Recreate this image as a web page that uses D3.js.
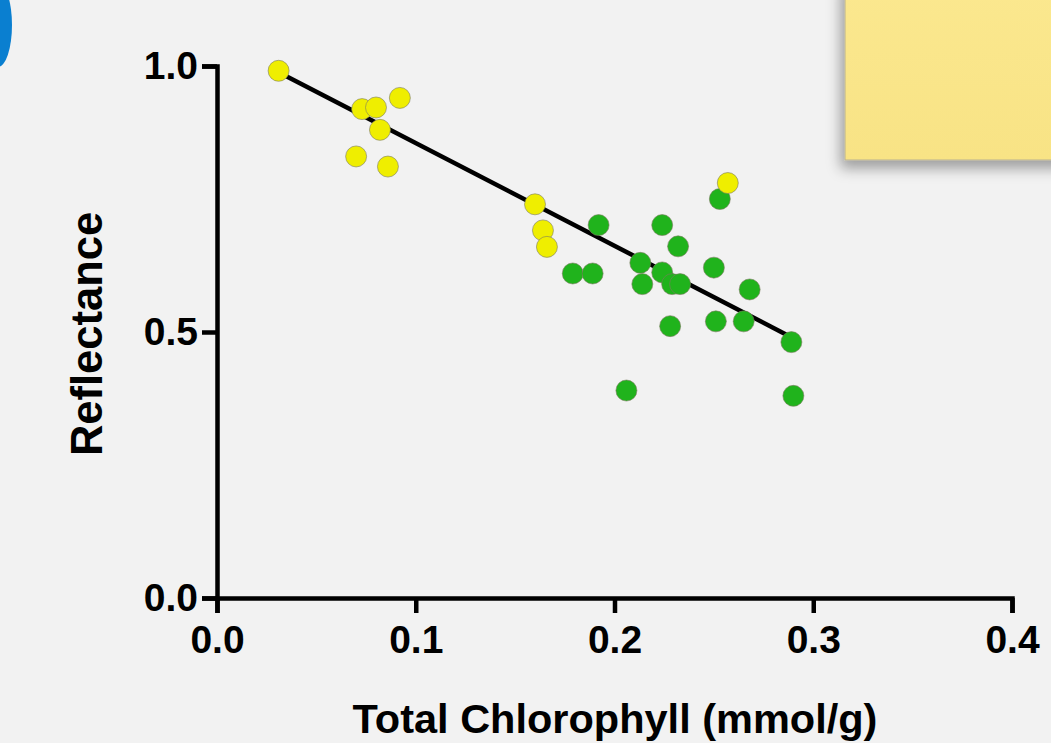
<!DOCTYPE html>
<meta charset="utf-8">
<style>
body { margin: 0; background: #f2f2f2; }
svg { display: block; }
.axis text { font-family: "Liberation Sans", Arial, sans-serif; font-weight: bold; font-size: 39px; fill: #000; }
.axis path, .axis line { stroke: #000; stroke-width: 4.5px; }
.title { font-family: "Liberation Sans", Arial, sans-serif; font-weight: bold; fill: #000; }
.dot { stroke: #7a7a60; stroke-width: 0.6px; }
</style>
<svg width="1051" height="743"></svg>
<script src="https://d3js.org/d3.v7.min.js"></script>
<script>

// chlorophyll vs reflectance, two groups of leaves
var xYellow = [0.031, 0.073, 0.080, 0.092, 0.082, 0.070, 0.086, 0.160, 0.164, 0.166, 0.257];
var yYellow = [0.991, 0.919, 0.922, 0.940, 0.880, 0.830, 0.811, 0.740, 0.691, 0.660, 0.780];

var xGreen = [0.253, 0.192, 0.224, 0.232, 0.179, 0.189, 0.213, 0.214, 0.224, 0.229, 0.233,
              0.250, 0.268, 0.228, 0.251, 0.265, 0.289, 0.206, 0.290];
var yGreen = [0.750, 0.701, 0.701, 0.661, 0.610, 0.610, 0.630, 0.590, 0.612, 0.590, 0.590,
              0.621, 0.580, 0.511, 0.520, 0.520, 0.481, 0.390, 0.380];

// linear fit drawn over the data range
var fitSlope = -1.93,
    fitIntercept = 1.048,
    fitRange = [0.031, 0.2875];

var xTicks = [0, 0.1, 0.2, 0.3, 0.4];
var yTicks = [0, 0.5, 1.0];

var svg = d3.select("svg");

// bits of the slide behind the chart
var defs = svg.append("defs");
var shadow = defs.append("filter").attr("id", "shadow")
    .attr("x", "-20%").attr("y", "-20%").attr("width", "140%").attr("height", "160%");
shadow.append("feDropShadow").attr("dx", -4).attr("dy", 8).attr("stdDeviation", 7)
    .attr("flood-color", "#000").attr("flood-opacity", 0.35);
var noteFill = defs.append("linearGradient").attr("id", "note")
    .attr("x1", 0).attr("y1", 0).attr("x2", 0).attr("y2", 1);
noteFill.append("stop").attr("offset", "0%").attr("stop-color", "#fbe88f");
noteFill.append("stop").attr("offset", "100%").attr("stop-color", "#f8e385");

svg.append("rect")
    .attr("x", 845).attr("y", -20).attr("width", 240).attr("height", 180)
    .attr("fill", "url(#note)").attr("stroke", "#b8b090").attr("stroke-width", 1)
    .attr("filter", "url(#shadow)");

svg.append("ellipse")
    .attr("cx", -2).attr("cy", 25).attr("rx", 14).attr("ry", 42)
    .attr("fill", "#0a7fd0");

var x = d3.scaleLinear().domain([0, 0.4]).range([217, 1012]);
var y = d3.scaleLinear().domain([0, 1]).range([598, 66]);

svg.append("g")
    .attr("class", "axis")
    .attr("transform", "translate(0," + y(0) + ")")
    .call(d3.axisBottom(x).tickValues(xTicks).tickSize(15).tickSizeOuter(15).tickPadding(12)
        .tickFormat(d3.format(".1f")));

svg.append("g")
    .attr("class", "axis")
    .attr("transform", "translate(" + x(0) + ",0)")
    .call(d3.axisLeft(y).tickValues(yTicks).tickSize(15).tickSizeOuter(15).tickPadding(4)
        .tickFormat(d3.format(".1f")));

svg.append("line")
    .attr("x1", x(fitRange[0])).attr("y1", y(fitIntercept + fitSlope * fitRange[0]))
    .attr("x2", x(fitRange[1])).attr("y2", y(fitIntercept + fitSlope * fitRange[1]))
    .attr("stroke", "#000").attr("stroke-width", 4.5);

var green = d3.range(xGreen.length).map(function(i) { return [xGreen[i], yGreen[i]]; });
var yellow = d3.range(xYellow.length).map(function(i) { return [xYellow[i], yYellow[i]]; });

svg.append("g").selectAll("circle")
    .data(green).enter()
    .append("circle")
      .attr("class", "dot")
      .attr("cx", function(d) { return x(d[0]); })
      .attr("cy", function(d) { return y(d[1]); })
      .attr("r", 10.5)
      .attr("fill", "#20b31c");

svg.append("g").selectAll("circle")
    .data(yellow).enter()
    .append("circle")
      .attr("class", "dot")
      .attr("cx", function(d) { return x(d[0]); })
      .attr("cy", function(d) { return y(d[1]); })
      .attr("r", 10.5)
      .attr("fill", "#efee00");

// the slide crops this title at the bottom; keep it just inside the page
svg.append("text")
    .attr("class", "title")
    .attr("x", 615).attr("y", 733)
    .attr("text-anchor", "middle")
    .style("font-size", "41.5px")
    .text("Total Chlorophyll (mmol/g)");

svg.append("text")
    .attr("class", "title")
    .attr("transform", "translate(102,334) rotate(-90)")
    .attr("text-anchor", "middle")
    .style("font-size", "43.5px")
    .text("Reflectance");
</script>
